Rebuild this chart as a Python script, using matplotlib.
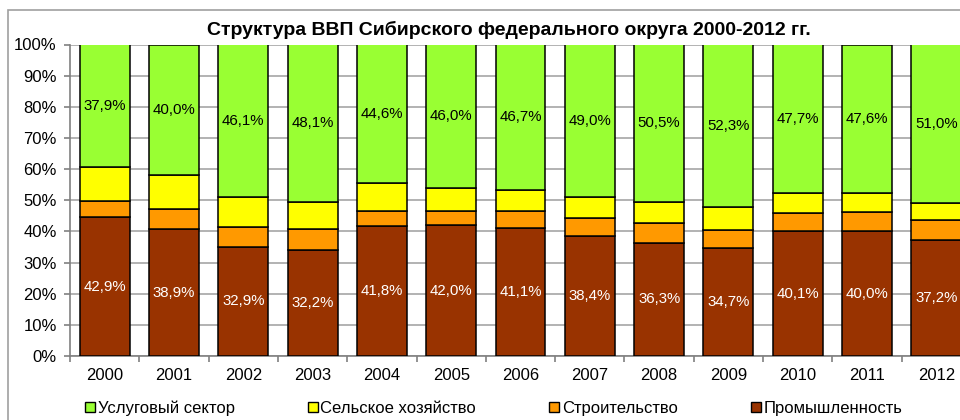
import matplotlib
import numpy as np

matplotlib.use("Agg")
import matplotlib.pyplot as plt
from matplotlib.patches import Patch, Rectangle

plt.rcParams["font.family"] = ["Liberation Sans", "DejaVu Sans"]

years = ["2000", "2001", "2002", "2003", "2004", "2005", "2006",
         "2007", "2008", "2009", "2010", "2011", "2012"]
industry = [42.9, 38.9, 32.9, 32.2, 41.8, 42.0, 41.1, 38.4, 36.3, 34.7, 40.1, 40.0, 37.2]
construction = [5.1, 6.4, 6.1, 6.4, 4.8, 4.6, 5.3, 6.0, 6.3, 5.7, 5.9, 6.3, 6.6]
agriculture = [10.3, 10.4, 8.9, 8.3, 8.8, 7.4, 6.9, 6.6, 6.9, 7.3, 6.3, 6.1, 5.2]
services = [37.9, 40.0, 46.1, 48.1, 44.6, 46.0, 46.7, 49.0, 50.5, 52.3, 47.7, 47.6, 51.0]

series_names = ["Услуговый сектор", "Сельское хозяйство", "Строительство", "Промышленность"]
colors = {"Промышленность": "#993300", "Строительство": "#FF9900",
          "Сельское хозяйство": "#FFFF00", "Услуговый сектор": "#99FF33"}

stack = [("Промышленность", industry), ("Строительство", construction),
         ("Сельское хозяйство", agriculture), ("Услуговый сектор", services)]

fig = plt.figure(figsize=(9.6, 4.2), dpi=100)

# outer chart border (cropped on the right and bottom)
fig.patches.append(Rectangle((8 / 960, -0.1), 1.2, (420 - 10) / 420 + 0.1,
                             transform=fig.transFigure, fill=False,
                             edgecolor="#A0A0A0", linewidth=1.2))

ax = fig.add_axes([70 / 960, 64 / 420, 901 / 960, 311.5 / 420])

x = np.arange(len(years))
raw = np.array([v for _, v in stack], dtype=float)
totals = raw.sum(axis=0)
shares = raw / totals * 100

bottom = np.zeros(len(years))
for (name, vals), share in zip(stack, shares):
    ax.bar(x, share, 0.72, bottom=bottom, color=colors[name],
           edgecolor="black", linewidth=1.1, zorder=3)
    if name in ("Промышленность", "Услуговый сектор"):
        txt_color = "white" if name == "Промышленность" else "black"
        for xi, b, s, v in zip(x, bottom, share, vals):
            ax.text(xi, b + s / 2, f"{v:.1f}%".replace(".", ","),
                    ha="center", va="center", fontsize=10.8,
                    color=txt_color, zorder=4)
    bottom += share

ax.set_xlim(-0.5, len(years) - 0.5)
ax.set_ylim(0, 100)
ax.set_yticks(np.arange(0, 101, 10))
ax.set_yticklabels([f"{t}%" for t in range(0, 101, 10)], fontsize=12)
ax.set_xticks(x)
ax.set_xticklabels(years, fontsize=12)
ax.set_xticks(np.arange(-0.5, len(years), 1), minor=True)
ax.tick_params(axis="x", which="major", length=0, pad=9)
ax.tick_params(axis="x", which="minor", length=4, color="#808080", width=1.2)
ax.tick_params(axis="y", length=4.5, color="#808080", width=1.2, pad=5)
ax.yaxis.grid(True, color="#A6A6A6", linewidth=1.2, zorder=0)
ax.set_axisbelow(True)
for side in ("top", "right"):
    ax.spines[side].set_visible(False)
for side in ("left", "bottom"):
    ax.spines[side].set_color("#808080")
    ax.spines[side].set_linewidth(1.2)

fig.text(509 / 960, 1 - 30 / 420, "Структура ВВП Сибирского федерального округа 2000-2012 гг.",
         ha="center", va="center", fontsize=14, fontweight="bold")

handles = [Patch(facecolor=colors[n], edgecolor="black", linewidth=1.0) for n in series_names]
fig.legend(handles, series_names, loc="center left", bbox_to_anchor=(85 / 960, 1 - 408 / 420),
           ncol=4, frameon=False, fontsize=12, handlelength=0.6, handleheight=0.6,
           handletextpad=0.15, columnspacing=4.4, borderpad=0, borderaxespad=0)

fig.savefig("out.png", dpi=100)
